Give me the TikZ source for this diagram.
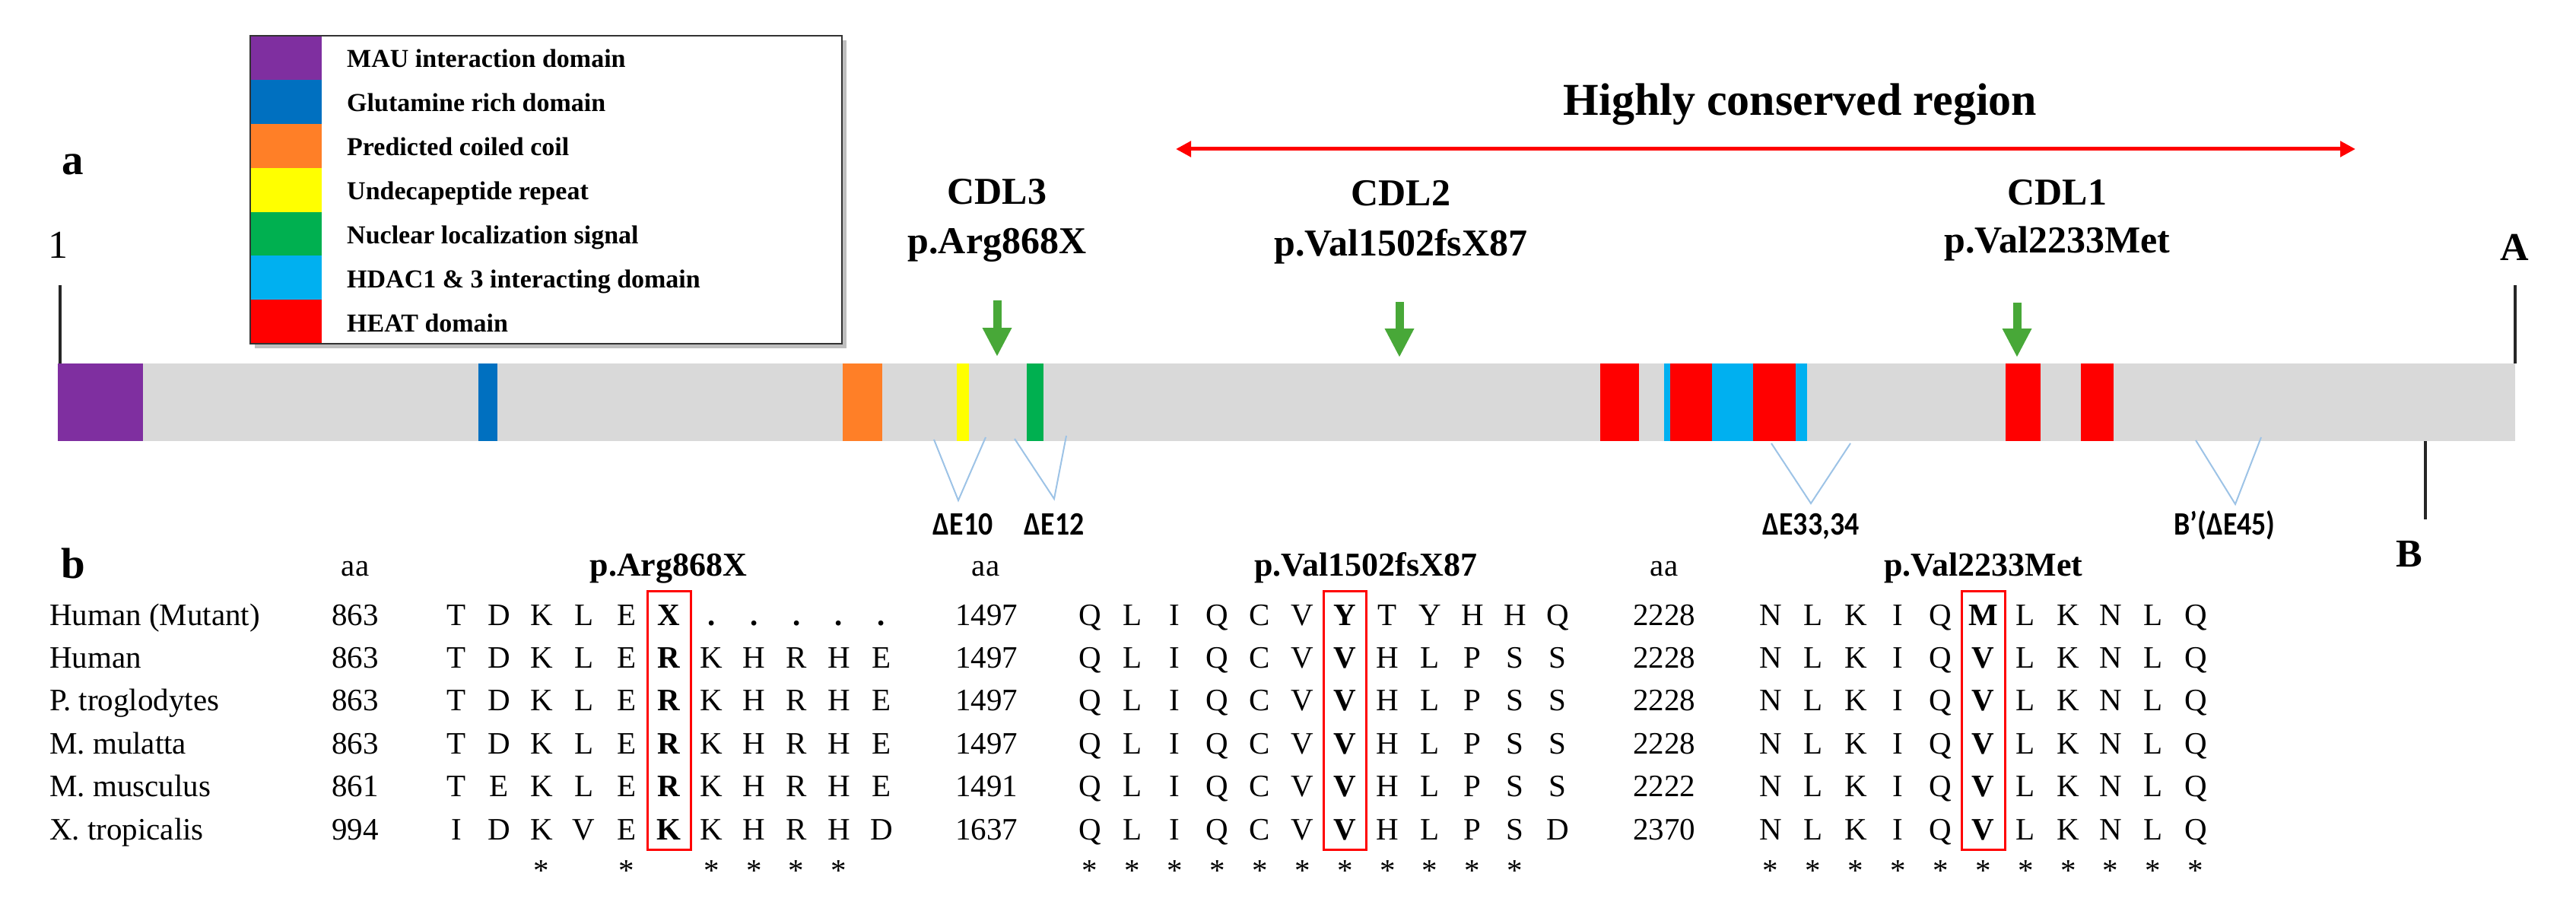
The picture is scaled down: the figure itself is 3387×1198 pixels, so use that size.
\documentclass[tikz,border=0pt]{standalone}
\usepackage{fontspec}
\setmainfont{Liberation Serif}
\newfontfamily\calfont{Carlito}[FakeStretch=0.88]
\usetikzlibrary{arrows.meta}
\definecolor{cpurple}{HTML}{7F2FA0}
\definecolor{cblue}{HTML}{0070C0}
\definecolor{corange}{HTML}{FF7F27}
\definecolor{cyellow}{HTML}{FFFF00}
\definecolor{cgreen}{HTML}{00B050}
\definecolor{ccyan}{HTML}{00B0F0}
\definecolor{cred}{HTML}{FF0000}
\definecolor{cgray}{HTML}{D9D9D9}
\definecolor{garrowc}{HTML}{48A838}
\definecolor{exonc}{HTML}{9DC3E6}
\newcommand\seqrow[4]{%
  \foreach \s [count=\i] in {#4} {\node[seq] (#1-\i) at ({#2+55.9*(\i-1)},#3) {\s};}%
}
\begin{document}
\begin{tikzpicture}[x=1pt,y=-1pt,
  seq/.style={font=\fontsize{41}{49}\selectfont, anchor=base, inner sep=0pt},
  species/.style={font=\fontsize{41}{49}\selectfont, anchor=base west, inner sep=0pt},
  aanum/.style={font=\fontsize{41}{49}\selectfont, anchor=base, inner sep=0pt},
  hdr/.style={font=\fontsize{44}{52}\selectfont\bfseries, anchor=base, inner sep=0pt},
  legtext/.style={font=\fontsize{34}{40}\selectfont\bfseries, anchor=base west, inner sep=0pt},
  cdl/.style={font=\fontsize{50}{60}\selectfont\bfseries, anchor=base, inner sep=0pt},
  panel/.style={font=\fontsize{57}{66}\selectfont\bfseries, anchor=base, inner sep=0pt},
  endlab/.style={font=\fontsize{52}{60}\selectfont\bfseries, anchor=base, inner sep=0pt},
  exlab/.style={font=\calfont\fontsize{43}{50}\selectfont\bfseries, anchor=base, inner sep=0pt},
  exline/.style={draw=exonc, line width=2pt},
  tick/.style={draw=black!85, line width=3.5pt},
  garrow/.style={draw=garrowc, line width=11pt, -{Triangle[length=38pt,width=36pt]}},
  redbox/.style={draw=cred, line width=3pt},
  aster/.style={font=\fontsize{41}{49}\selectfont, anchor=base, inner sep=0pt}
]
\useasboundingbox (0,0) rectangle (3387,1198);

% ---------- legend ----------
\fill[black!25] (335,53) rectangle (1113,458);
\fill[white] (329,47) rectangle (1107,452);
\foreach \c [count=\i from 0] in {cpurple,cblue,corange,cyellow,cgreen,ccyan,cred}
  \fill[\c] (329,{47+57.9*\i}) rectangle (423,{47+57.9*(\i+1)});
\draw[black!80, line width=2.5pt] (329,47) rectangle (1107,452);
\foreach \t [count=\i from 0] in {MAU interaction domain,Glutamine rich domain,Predicted coiled coil,Undecapeptide repeat,Nuclear localization signal,HDAC1 \& 3 interacting domain,HEAT domain}
  \node[legtext] (leg\i) at (456,{89+57.9*\i}) {\t};

% ---------- panel labels ----------
\node[panel] (pa) at (96,230) {a};
\node[font=\fontsize{52}{60}\selectfont, anchor=base, inner sep=0pt] (one) at (76,340) {1};
\node[endlab] (labA) at (3306,342) {A};
\node[endlab] (labB) at (3168,745) {B};

% ---------- highly conserved region ----------
\node[font=\fontsize{60}{70}\selectfont\bfseries, anchor=base, inner sep=0pt] (hcr) at (2367,152) {Highly conserved region};
\coordinate (hcrL) at (1546,196);
\coordinate (hcrR) at (3097,196);
\draw[cred, line width=5pt, {Triangle[length=20pt,width=20pt]}-{Triangle[length=20pt,width=20pt]}] (hcrL) -- (hcrR);

% ---------- CDL labels ----------
\node[cdl] (cdl3) at (1311,269) {CDL3};
\node[cdl] (mut3) at (1311,334) {p.Arg868X};
\node[cdl] (cdl2) at (1842,271) {CDL2};
\node[cdl] (mut2) at (1842,337) {p.Val1502fsX87};
\node[cdl] (cdl1) at (2705,270) {CDL1};
\node[cdl] (mut1) at (2705,333) {p.Val2233Met};

\coordinate (g3a) at (1311,395); \coordinate (g3b) at (1311,469);
\coordinate (g2a) at (1840,397); \coordinate (g2b) at (1840,470);
\coordinate (g1a) at (2652,398); \coordinate (g1b) at (2652,470);
\draw[garrow] (g3a) -- (g3b);
\draw[garrow] (g2a) -- (g2b);
\draw[garrow] (g1a) -- (g1b);

% ---------- protein bar ----------
\fill[cgray] (76,478) rectangle (3307,580);
\fill[cpurple] (76,478) rectangle (188,580);
\fill[cblue] (629,478) rectangle (654,580);
\fill[corange] (1108,478) rectangle (1160,580);
\fill[cyellow] (1258,478) rectangle (1274,580);
\fill[cgreen] (1350,478) rectangle (1372,580);
\fill[cred] (2104,478) rectangle (2155,580);
\fill[ccyan] (2188,478) rectangle (2376,580);
\fill[cred] (2196,478) rectangle (2251,580);
\fill[cred] (2305,478) rectangle (2361,580);
\fill[cred] (2637,478) rectangle (2683,580);
\fill[cred] (2736,478) rectangle (2779,580);

\coordinate (t1a) at (79,375); \coordinate (t1b) at (79,478);
\coordinate (tAa) at (3307,375); \coordinate (tAb) at (3307,478);
\coordinate (tBa) at (3189,580); \coordinate (tBb) at (3189,683);
\draw[tick] (t1a) -- (t1b);
\draw[tick] (tAa) -- (tAb);
\draw[tick] (tBa) -- (tBb);

% ---------- exon deletions ----------
\draw[exline] (1228,578) -- (1260,658) -- (1296,575);
\draw[exline] (1334,577) -- (1386,656) -- (1402,573);
\draw[exline] (2329,583) -- (2381,662) -- (2433,583);
\draw[exline] (2887,579) -- (2939,663) -- (2973,575);
\node[exlab] (e10) at (1266,703) {ΔE10};
\node[exlab] (e12) at (1386,703) {ΔE12};
\node[exlab] (e33) at (2381,703) {ΔE33,34};
\node[exlab] (e45) at (2925,703) {B’(ΔE45)};

% ---------- panel b ----------
\node[panel] (pb) at (96,760) {b};
\node[aanum] (aa1) at (467,757) {aa};
\node[aanum] (aa2) at (1296,757) {aa};
\node[aanum] (aa3) at (2188,757) {aa};
\node[hdr] (h1) at (879,757) {p.Arg868X};
\node[hdr] (h2) at (1796,757) {p.Val1502fsX87};
\node[hdr] (h3) at (2608,757) {p.Val2233Met};

\foreach \n [count=\r] in {Human (Mutant),Human,P. troglodytes,M. mulatta,M. musculus,X. tropicalis}
  \node[species] (sp\r) at (65,{822+56.4*(\r-1)}) {\n};
\foreach \a/\b/\c [count=\r] in {863/1497/2228,863/1497/2228,863/1497/2228,863/1497/2228,861/1491/2222,994/1637/2370}{
  \node[aanum] (na\r) at (467,{822+56.4*(\r-1)}) {\a};
  \node[aanum] (nb\r) at (1297,{822+56.4*(\r-1)}) {\b};
  \node[aanum] (nc\r) at (2188,{822+56.4*(\r-1)}) {\c};
}

% block 1
\seqrow{a1}{600}{822}{T,D,K,L,E,\textbf{X},\textbf{.},\textbf{.},\textbf{.},\textbf{.},\textbf{.}}
\seqrow{a2}{600}{878.4}{T,D,K,L,E,\textbf{R},K,H,R,H,E}
\seqrow{a3}{600}{934.8}{T,D,K,L,E,\textbf{R},K,H,R,H,E}
\seqrow{a4}{600}{991.2}{T,D,K,L,E,\textbf{R},K,H,R,H,E}
\seqrow{a5}{600}{1047.6}{T,E,K,L,E,\textbf{R},K,H,R,H,E}
\seqrow{a6}{600}{1104}{I,D,K,V,E,\textbf{K},K,H,R,H,D}
% block 2
\seqrow{b1}{1433}{822}{Q,L,I,Q,C,V,\textbf{Y},T,Y,H,H,Q}
\seqrow{b2}{1433}{878.4}{Q,L,I,Q,C,V,\textbf{V},H,L,P,S,S}
\seqrow{b3}{1433}{934.8}{Q,L,I,Q,C,V,\textbf{V},H,L,P,S,S}
\seqrow{b4}{1433}{991.2}{Q,L,I,Q,C,V,\textbf{V},H,L,P,S,S}
\seqrow{b5}{1433}{1047.6}{Q,L,I,Q,C,V,\textbf{V},H,L,P,S,S}
\seqrow{b6}{1433}{1104}{Q,L,I,Q,C,V,\textbf{V},H,L,P,S,D}
% block 3
\seqrow{c1}{2328}{822}{N,L,K,I,Q,\textbf{M},L,K,N,L,Q}
\seqrow{c2}{2328}{878.4}{N,L,K,I,Q,\textbf{V},L,K,N,L,Q}
\seqrow{c3}{2328}{934.8}{N,L,K,I,Q,\textbf{V},L,K,N,L,Q}
\seqrow{c4}{2328}{991.2}{N,L,K,I,Q,\textbf{V},L,K,N,L,Q}
\seqrow{c5}{2328}{1047.6}{N,L,K,I,Q,\textbf{V},L,K,N,L,Q}
\seqrow{c6}{2328}{1104}{N,L,K,I,Q,\textbf{V},L,K,N,L,Q}

% asterisks
\foreach \i in {3,5,7,8,9,10} \node[aster] (sa\i) at ({600+55.9*(\i-1)},1158) {*};
\foreach \i in {1,...,11} \node[aster] (sb\i) at ({1433+55.9*(\i-1)},1158) {*};
\foreach \i in {1,...,11} \node[aster] (sc\i) at ({2328+55.9*(\i-1)},1158) {*};

% red boxes
\draw[redbox] (851,777) rectangle (908,1117);
\draw[redbox] (1740,777) rectangle (1796,1117);
\draw[redbox] (2579,777) rectangle (2636,1117);
\end{tikzpicture}
\end{document}
